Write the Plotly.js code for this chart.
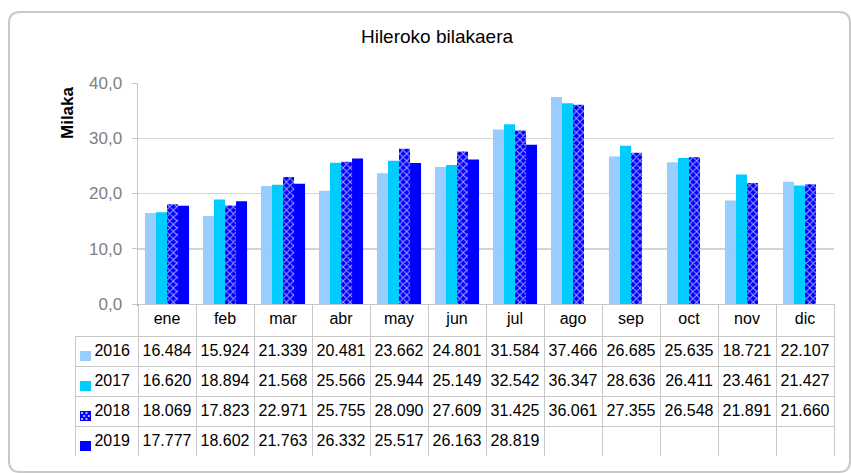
<!DOCTYPE html>
<html>
<head>
<meta charset="utf-8">
<script src="https://cdn.plot.ly/plotly-3.0.1.min.js"></script>
<style>html,body{margin:0;padding:0;background:#fff;}#chart{width:851px;height:473px;}</style>
</head>
<body>
<div id="chart"></div>
<script>
// ---- data ----
var months = ['ene','feb','mar','abr','may','jun','jul','ago','sep','oct','nov','dic'];
var years = ['2016','2017','2018','2019'];
var v2016 = [16484,15924,21339,20481,23662,24801,31584,37466,26685,25635,18721,22107];
var v2017 = [16620,18894,21568,25566,25944,25149,32542,36347,28636,26411,23461,21427];
var v2018 = [18069,17823,22971,25755,28090,27609,31425,36061,27355,26548,21891,21660];
var v2019 = [17777,18602,21763,26332,25517,26163,28819,null,null,null,null,null];
var yTicks = [0,10,20,30,40];

// ---- layout helpers (pixel -> paper) ----
var W = 851, H = 473;
var mL = 75, mR = 17, mT = 83, mB = 17;
var pw = W - mL - mR, ph = H - mT - mB;
function px(x){ return (x - mL) / pw; }
function py(y){ return (H - mB - y) / ph; }
var tableTop = py(304);
var FONT = 'Liberation Sans, Arial, sans-serif';

var colors = ['#99CCFF','#00CCFF','#0000FF','#0000FF'];
var series = [v2016, v2017, v2018, v2019];

function fmt(v){ return v == null ? '' : String(v).replace(/\B(?=(\d{3})+(?!\d))/g, '.'); }
function toK(arr){ return arr.map(function(v){ return v == null ? null : v / 1000; }); }

var traces = series.map(function(s, i){
  var t = {
    type: 'bar', x: months, y: toK(s), name: years[i],
    marker: {color: colors[i], line: {width: 0}},
    hoverinfo: 'skip', showlegend: false,
    xaxis: 'x', yaxis: 'y'
  };
  if (i === 2) {
    t.marker.pattern = {shape: 'x', bgcolor: '#0000FF', fgcolor: '#FFFFFF', fgopacity: 0.65, size: 5, solidity: 0.35, fillmode: 'replace'};
  }
  return t;
});

var cellCols = [years.slice()];
months.forEach(function(m, j){
  cellCols.push(series.map(function(s){ return fmt(s[j]); }));
});
var headerVals = [''].concat(months);
var headLine = ['rgba(0,0,0,0)'].concat(months.map(function(){ return '#C8C8C8'; }));
var headFill = ['rgba(0,0,0,0)'].concat(months.map(function(){ return '#FFFFFF'; }));
var aligns = ['right'].concat(months.map(function(){ return 'center'; }));
var colW = [63].concat(months.map(function(){ return 58; }));

traces.push({
  type: 'table',
  domain: {x: [0, 1], y: [0, tableTop]},
  columnwidth: colW,
  header: {
    values: headerVals,
    height: 32,
    align: 'center',
    line: {color: headLine, width: 1},
    fill: {color: headFill},
    font: {family: FONT, size: 16, color: '#000000'}
  },
  cells: {
    values: cellCols,
    height: 30,
    align: aligns,
    line: {color: '#C8C8C8', width: 1},
    fill: {color: '#FFFFFF'},
    font: {family: FONT, size: 16, color: '#000000'}
  }
});

// rounded outer border
var bx0 = 9, bx1 = 850, by0 = 12, by1 = 472, r = 11;
function P(x, y){ return px(x) + ',' + py(y); }
var borderPath = 'M' + P(bx0 + r, by0) + ' L' + P(bx1 - r, by0) + ' Q' + P(bx1, by0) + ' ' + P(bx1, by0 + r) +
  ' L' + P(bx1, by1 - r) + ' Q' + P(bx1, by1) + ' ' + P(bx1 - r, by1) +
  ' L' + P(bx0 + r, by1) + ' Q' + P(bx0, by1) + ' ' + P(bx0, by1 - r) +
  ' L' + P(bx0, by0 + r) + ' Q' + P(bx0, by0) + ' ' + P(bx0 + r, by0) + ' Z';

var shapes = [{
  type: 'path', xref: 'paper', yref: 'paper', path: borderPath,
  line: {color: '#C8C8C8', width: 2}, fillcolor: 'rgba(0,0,0,0)', layer: 'below'
}];
// legend swatches in the table's first column
var swatchFill = ['#99CCFF','#00CCFF','#0000FF','#0000FF'];
years.forEach(function(y, i){
  var top = 351 + 30 * i;
  shapes.push({
    type: 'rect', xref: 'paper', yref: 'paper',
    x0: px(80), x1: px(91), y0: py(top), y1: py(top + 10),
    fillcolor: swatchFill[i], line: {width: 0}, layer: 'above'
  });
  if (i === 2) {
    // light dots of the 2018 pattern on its swatch
    [[2,2],[6.5,2],[4.2,5],[8.8,5],[2,8],[6.5,8]].forEach(function(d){
      var cx = 80 + d[0], cy = top + d[1];
      shapes.push({
        type: 'rect', xref: 'paper', yref: 'paper',
        x0: px(cx - 1), x1: px(cx + 1), y0: py(cy - 1), y1: py(cy + 1),
        fillcolor: '#B8B8FF', line: {width: 0}, layer: 'above'
      });
    });
  }
});

var layout = {
  width: W, height: H,
  margin: {l: mL, r: mR, t: mT, b: mB, pad: 0},
  paper_bgcolor: '#FFFFFF', plot_bgcolor: '#FFFFFF',
  separators: ',.',
  font: {family: FONT, color: '#000000'},
  title: {
    text: 'Hileroko bilakaera',
    x: 437 / W, xref: 'container', xanchor: 'center',
    y: 1 - 36 / H, yref: 'container', yanchor: 'middle',
    font: {family: FONT, size: 19, color: '#000000'}
  },
  barmode: 'group', bargap: 0.24, bargroupgap: 0,
  xaxis: {
    domain: [px(138), 1], type: 'category',
    showticklabels: false, ticks: '', showgrid: false,
    showline: true, linecolor: '#A0A0A0', linewidth: 2, zeroline: false,
    fixedrange: true
  },
  yaxis: {
    domain: [tableTop, 1], range: [0, 40],
    tickvals: yTicks, tickformat: '.1f',
    tickfont: {family: FONT, size: 17, color: '#808080'},
    ticks: 'outside', ticklen: 5, tickcolor: '#C8C8C8', ticklabelstandoff: 6,
    showgrid: true, gridcolor: '#D4D4D4', gridwidth: 1.5,
    showline: true, linecolor: '#C8C8C8', linewidth: 1.5,
    zeroline: false, fixedrange: true
  },
  annotations: [{
    text: '<b>Milaka</b>', xref: 'paper', yref: 'paper',
    x: px(67), y: py(113), xanchor: 'center', yanchor: 'middle',
    textangle: -90, showarrow: false,
    font: {family: FONT, size: 17, color: '#000000'}
  }],
  shapes: shapes
};

Plotly.newPlot('chart', traces, layout, {displayModeBar: false, staticPlot: true});
</script>
</body>
</html>
